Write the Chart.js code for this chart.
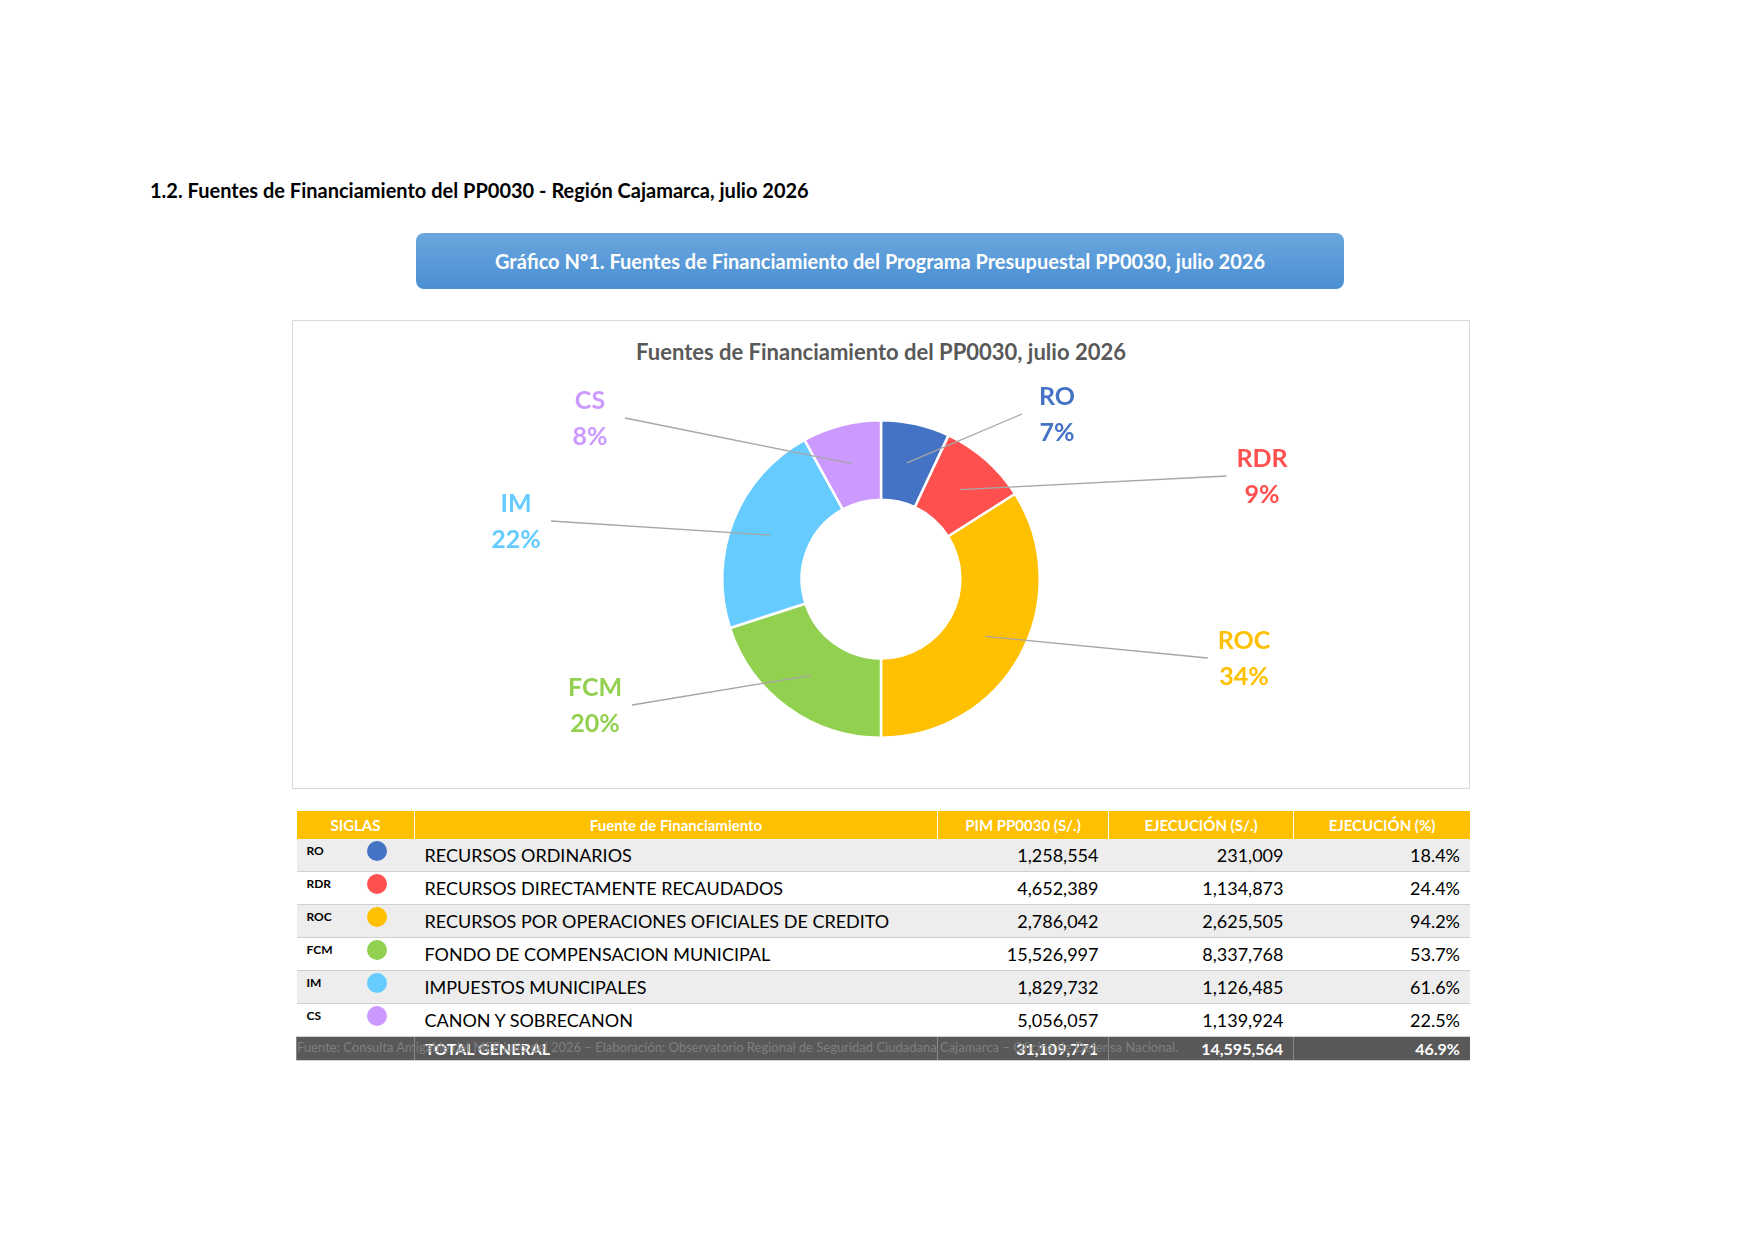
<!DOCTYPE html>
<html><head><meta charset="utf-8">
<script src="https://cdn.jsdelivr.net/npm/chart.js@4.4.1/dist/chart.umd.min.js"></script>
<style>
body{margin:0;width:1754px;height:1240px;background:#fff;font-family:Lato,"Open Sans",sans-serif;position:relative;overflow:hidden}
.abs{position:absolute}
#sec{left:150px;top:178px;font-size:20px;font-weight:bold;color:#000}
#banner{left:416px;top:233px;width:928px;height:56px;border-radius:8px;background:linear-gradient(#6aa6de,#4a8fd2);color:#fff;font-weight:bold;font-size:20px;text-align:center;line-height:56px}
#box{left:292px;top:320px;width:1176px;height:467px;border:1px solid #d9d9d9}
#ctitle{left:0;top:17px;width:100%;text-align:center;font-size:22px;font-weight:bold;color:#595959}
#cv{position:absolute;left:0;top:0}
table{position:absolute;left:296px;top:811px;width:1174px;border-collapse:collapse;font-size:18px}
th{background:#ffc000;color:#fff;font-size:15px;height:28px;padding:0;border-left:1px solid #fff}
td{height:28px;padding:0 10px;border-bottom:1px solid #d0d0d0}
tr:nth-child(odd) td{background:#ededed}
td.n{text-align:right}
td.s{font-size:12px;font-weight:bold;vertical-align:top;padding:4px 0 0 10px}
.dot{display:inline-block;width:20px;height:20px;border-radius:50%;float:right;margin-right:28px;margin-top:-2px}
tr.tot td{background:#595959;color:#fff;font-weight:bold;font-size:16px;height:23px;border-left:1px solid #888}
#foot{left:297px;top:1039px;font-size:13px;color:#7f7f7f}
</style></head><body>
<div id="sec" class="abs">1.2. Fuentes de Financiamiento del PP0030 - Región Cajamarca, julio 2026</div>
<div id="banner" class="abs">Gráfico N°1. Fuentes de Financiamiento del Programa Presupuestal PP0030, julio 2026</div>
<div id="box" class="abs"><div id="ctitle" class="abs">Fuentes de Financiamiento del PP0030, julio 2026</div><canvas id="cv" width="1176" height="467"></canvas></div>
<table id="tb"><thead><tr><th style="width:117px">SIGLAS</th><th>Fuente de Financiamiento</th><th style="width:170px">PIM PP0030 (S/.)</th><th style="width:184px">EJECUCIÓN (S/.)</th><th style="width:176px">EJECUCIÓN (%)</th></tr></thead><tbody></tbody></table>
<div id="foot" class="abs">Fuente: Consulta Amigable del MEF julio del 2026 – Elaboración: Observatorio Regional de Seguridad Ciudadana Cajamarca – Oficina de Defensa Nacional.</div>
<script>
const siglas = ['RO','RDR','ROC','FCM','IM','CS'];
const fuentes = ['RECURSOS ORDINARIOS','RECURSOS DIRECTAMENTE RECAUDADOS','RECURSOS POR OPERACIONES OFICIALES DE CREDITO','FONDO DE COMPENSACION MUNICIPAL','IMPUESTOS MUNICIPALES','CANON Y SOBRECANON'];
const pim = ['1,258,554','4,652,389','2,786,042','15,526,997','1,829,732','5,056,057'];
const ejec = ['231,009','1,134,873','2,625,505','8,337,768','1,126,485','1,139,924'];
const ejecPct = ['18.4%','24.4%','94.2%','53.7%','61.6%','22.5%'];
const total = ['31,109,771','14,595,564','46.9%'];
const sharePct = [7, 9, 34, 20, 22, 8];
const colors = ['#4472C4','#FF5050','#FFC000','#92D050','#66CCFF','#CC99FF'];
// label offsets from the donut centre (style only)
const labelOff = [[176,-165],[381,-103],[363,79],[-286,126],[-365,-58],[-291,-161]];

const tb = document.querySelector('#tb tbody');
siglas.forEach((s,i)=>{
  tb.insertAdjacentHTML('beforeend',`<tr><td class="s">${s}<span class="dot" style="background:${colors[i]}"></span></td><td>${fuentes[i]}</td><td class="n">${pim[i]}</td><td class="n">${ejec[i]}</td><td class="n">${ejecPct[i]}</td></tr>`);
});
tb.insertAdjacentHTML('beforeend',`<tr class="tot"><td></td><td>TOTAL GENERAL</td><td class="n">${total[0]}</td><td class="n">${total[1]}</td><td class="n">${total[2]}</td></tr>`);

const outLabels = {
  id:'outLabels',
  afterDatasetsDraw(chart){
    const ctx = chart.ctx, meta = chart.getDatasetMeta(0);
    ctx.save();
    ctx.font = 'bold 25px Lato, sans-serif';
    ctx.textAlign = 'center'; ctx.textBaseline = 'middle';
    meta.data.forEach((arc,i)=>{
      const lx = arc.x + labelOff[i][0], ly = arc.y + labelOff[i][1];
      const p = arc.tooltipPosition();
      const w = Math.max(ctx.measureText(siglas[i]).width, 50);
      const sx = labelOff[i][0] > 0 ? lx - w/2 - 10 : lx + w/2 + 10;
      ctx.strokeStyle = '#a6a6a6'; ctx.lineWidth = 1.3;
      ctx.beginPath(); ctx.moveTo(sx, ly); ctx.lineTo(p.x, p.y); ctx.stroke();
      ctx.fillStyle = colors[i];
      ctx.fillText(siglas[i], lx, ly - 17);
      ctx.fillText(chart.data.datasets[0].data[i] + '%', lx, ly + 19);
    });
    ctx.restore();
  }
};

new Chart(document.getElementById('cv'), {
  type:'doughnut',
  data:{labels:siglas, datasets:[{data:sharePct, backgroundColor:colors, borderColor:'#fff', borderWidth:2.5}]},
  options:{responsive:false, animation:false, cutout:'50%',
    layout:{padding:{top:98,bottom:49}},
    plugins:{legend:{display:false}, tooltip:{enabled:false}}},
  plugins:[outLabels]
});
</script>
</body></html>
